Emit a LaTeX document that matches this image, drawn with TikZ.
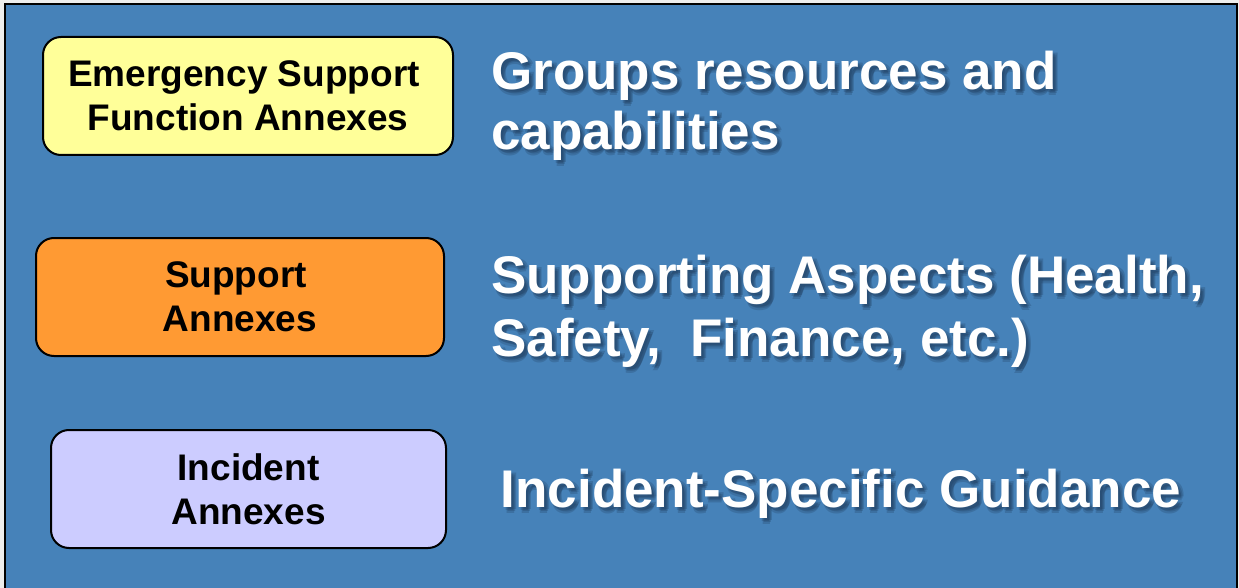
\documentclass[tikz,border=0pt]{standalone}
\usepackage{fontspec}
\setmainfont{Liberation Sans}
\definecolor{bgout}{HTML}{EDEEED}
\definecolor{panel}{RGB}{70,130,185}
\definecolor{boxyellow}{HTML}{FFFF99}
\definecolor{boxorange}{HTML}{FF9A33}
\definecolor{boxlav}{HTML}{CCCCFF}
\definecolor{shadowc}{HTML}{1A3350}
\tikzset{
  annexbox/.style={draw=black, line width=2pt, rounded corners=18pt, inner sep=0pt,
    align=center, font=\fontsize{37}{44}\selectfont\bfseries, text=black},
  bigtext/.style={anchor=base west, inner sep=0pt, text=white,
    font=\fontsize{53}{60}\selectfont\bfseries},
  shadowtext/.style={anchor=base west, inner sep=0pt, text=shadowc, opacity=0.22,
    font=\fontsize{53}{60}\selectfont\bfseries}
}
\newcommand{\shtext}[3]{%
  \foreach \dx/\dy in {2/3,4/4,5/2,3/6}{%
    \node[shadowtext] at ([shift={(\dx,\dy)}]#2) {#3};}%
  \node[bigtext] (#1) at (#2) {#3};}
\begin{document}
\begin{tikzpicture}[x=1pt,y=-1pt]
\clip (0,0) rectangle (1239,588);
\fill[bgout] (0,0) rectangle (1239,588);
\draw[line width=2pt, fill=panel] (5,4) rectangle (1237,600);
\node[annexbox, fill=boxyellow, minimum width=410pt, minimum height=118pt] (esf) at (248,96)
  {Emergency Support\hspace*{8pt}\\Function Annexes};
\node[annexbox, fill=boxorange, minimum width=408pt, minimum height=118pt] (sup) at (240,297)
  {Support\hspace*{8pt}\\Annexes};
\node[annexbox, fill=boxlav, minimum width=395pt, minimum height=118pt] (inc) at (248.5,489)
  {Incident\\Annexes};
\coordinate (g1) at (491,90);
\coordinate (g2) at (491,150);
\coordinate (s1) at (491,293);
\coordinate (s2) at (491,356);
\coordinate (i1) at (500.5,507);
\shtext{grpA}{g1}{Groups resources and}
\shtext{grpB}{g2}{capabilities}
\shtext{supA}{s1}{Supporting Aspects (Health,}
\shtext{supB}{s2}{Safety,~~Finance, etc.)}
\shtext{incA}{i1}{Incident-Specific Guidance}
\end{tikzpicture}
\end{document}
